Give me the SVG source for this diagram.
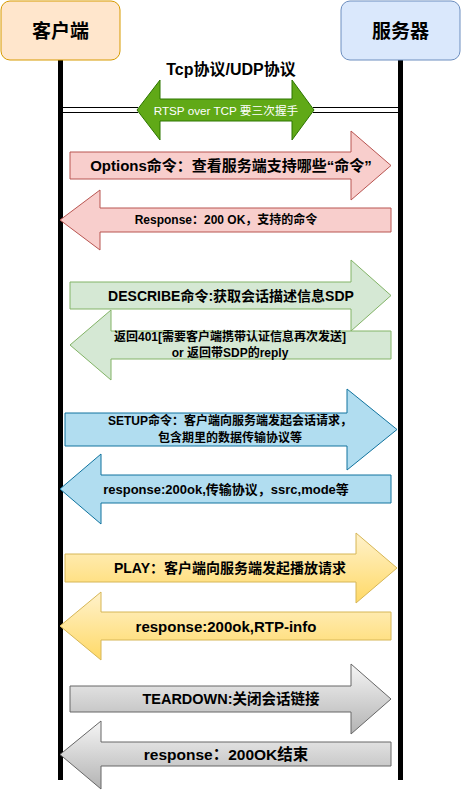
<svg xmlns="http://www.w3.org/2000/svg" width="461" height="791" viewBox="0 0 461 791">
<style>
text{font-family:"Liberation Sans","Noto Sans CJK SC",sans-serif;font-weight:bold;fill:#000;text-anchor:middle;dominant-baseline:central}
.life{stroke:#000;stroke-width:5;fill:none}
.dbl{stroke:#000;stroke-width:1;fill:none}
.red{fill:#f8cecc;stroke:#b85450;stroke-width:1}
.grn{fill:#d5e8d4;stroke:#82b366;stroke-width:1}
.blu{fill:#b1ddf0;stroke:#10739e;stroke-width:1}
.yel{fill:url(#gy);stroke:#d6b656;stroke-width:1}
.gry{fill:url(#gg);stroke:#666666;stroke-width:1}
</style>
<defs>
<linearGradient id="gy" x1="0" y1="0" x2="0" y2="1"><stop offset="0" stop-color="#fff2cc"/><stop offset="1" stop-color="#ffd966"/></linearGradient>
<linearGradient id="gg" x1="0" y1="0" x2="0" y2="1"><stop offset="0" stop-color="#f5f5f5"/><stop offset="1" stop-color="#b3b3b3"/></linearGradient>
</defs>
<rect width="461" height="791" fill="#fff"/>
<g id="connectors">
<line class="life" x1="60.5" y1="60" x2="60.5" y2="780"/>
<line class="life" x1="400.5" y1="60" x2="400.5" y2="780"/>
<line class="dbl" x1="63" y1="107.5" x2="138" y2="107.5"/>
<line class="dbl" x1="63" y1="112.5" x2="138" y2="112.5"/>
<line class="dbl" x1="313" y1="107.5" x2="398" y2="107.5"/>
<line class="dbl" x1="313" y1="112.5" x2="398" y2="112.5"/>
</g>
<g id="client"><rect x="1" y="1" width="119" height="59" rx="9" fill="#ffe6cc" stroke="#d79b00"/><text x="60.5" y="31" style="font-size:19px">客户端</text></g>
<g id="server"><rect x="341" y="1" width="119" height="59" rx="9" fill="#dae8fc" stroke="#6c8ebf"/><text x="400.5" y="31" style="font-size:19px">服务器</text></g>
<g id="tcp-label"><text x="231" y="69" style="font-size:16px">Tcp协议/UDP协议</text></g>
<g id="rtsp-tcp"><path d="M137,110 L160,80 L160,99 L292,99 L292,80 L314,110 L292,140 L292,121 L160,121 L160,140 Z" fill="#60a917" stroke="#2d7600"/><text x="226" y="110" style="font-size:11.7px;font-weight:normal;fill:#fff">RTSP over TCP 要三次握手</text></g>
<g id="options"><path class="red" d="M70,152 L351,152 L351,131 L391,165.5 L351,200 L351,179 L70,179 Z"/><text x="231" y="165.5" style="font-size:15px">Options命令：查看服务端支持哪些“命令”</text></g>
<g id="options-resp"><path class="red" d="M391,208 L100,208 L100,190 L60,220 L100,250 L100,232 L391,232 Z"/><text x="226" y="220" style="font-size:12px">Response：200 OK，支持的命令</text></g>
<g id="describe"><path class="grn" d="M70,282 L351,282 L351,260 L391,295.5 L351,331 L351,309 L70,309 Z"/><text x="231" y="295.5" style="font-size:14px">DESCRIBE命令:获取会话描述信息SDP</text></g>
<g id="describe-resp"><path class="grn" d="M391,331 L111,331 L111,310 L70,345 L111,380 L111,359 L391,359 Z"/><text x="230" y="337" style="font-size:12px">返回401[需要客户端携带认证信息再次发送]</text><text x="230" y="353" style="font-size:12px">or 返回带SDP的reply</text></g>
<g id="setup"><path class="blu" d="M65,413 L347,413 L347,389 L397,429.5 L347,470 L347,446 L65,446 Z"/><text x="230" y="421" style="font-size:12px">SETUP命令：客户端向服务端发起会话请求，</text><text x="230" y="437.5" style="font-size:12px">包含期里的数据传输协议等</text></g>
<g id="setup-resp"><path class="blu" d="M391,475 L101,475 L101,454 L60,489 L101,524 L101,503 L391,503 Z"/><text x="226" y="489" style="font-size:13px">response:200ok,传输协议，ssrc,mode等</text></g>
<g id="play"><path class="yel" d="M65,554 L356,554 L356,533 L397,568 L356,603 L356,582 L65,582 Z"/><text x="230" y="568" style="font-size:14px">PLAY：客户端向服务端发起播放请求</text></g>
<g id="play-resp"><path class="yel" d="M391,612 L101,612 L101,592 L60,626 L101,660 L101,640 L391,640 Z"/><text x="226" y="626.5" style="font-size:15px">response:200ok,RTP-info</text></g>
<g id="teardown"><path class="gry" d="M70,686 L351,686 L351,664 L391,699 L351,734 L351,712 L70,712 Z"/><text x="231" y="699" style="font-size:14.5px">TEARDOWN:关闭会话链接</text></g>
<g id="teardown-resp"><path class="gry" d="M391,742 L101,742 L101,721 L60,754.5 L101,789 L101,766 L391,766 Z"/><text x="226" y="754.5" style="font-size:15.5px">response：200OK结束</text></g>
</svg>
